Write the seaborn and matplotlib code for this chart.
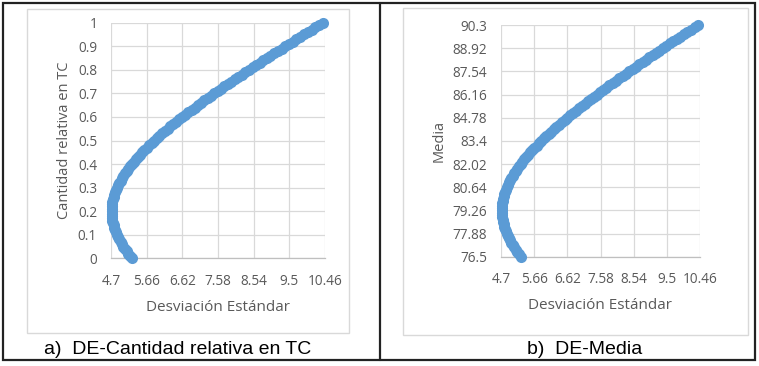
import matplotlib
matplotlib.use('Agg')
import matplotlib.pyplot as plt
import seaborn as sns
from matplotlib.patches import Rectangle

# valores (frontera: DE vs cantidad relativa en TC / media)
cantidad_tc = [0.00, 0.01, 0.02, 0.03, 0.04, 0.05, 0.06, 0.07, 0.08, 0.09,
               0.10, 0.11, 0.12, 0.13, 0.14, 0.15, 0.16, 0.17, 0.18, 0.19,
               0.20, 0.21, 0.22, 0.23, 0.24, 0.25, 0.26, 0.27, 0.28, 0.29,
               0.30, 0.31, 0.32, 0.33, 0.34, 0.35, 0.36, 0.37, 0.38, 0.39,
               0.40, 0.41, 0.42, 0.43, 0.44, 0.45, 0.46, 0.47, 0.48, 0.49,
               0.50, 0.51, 0.52, 0.53, 0.54, 0.55, 0.56, 0.57, 0.58, 0.59,
               0.60, 0.61, 0.62, 0.63, 0.64, 0.65, 0.66, 0.67, 0.68, 0.69,
               0.70, 0.71, 0.72, 0.73, 0.74, 0.75, 0.76, 0.77, 0.78, 0.79,
               0.80, 0.81, 0.82, 0.83, 0.84, 0.85, 0.86, 0.87, 0.88, 0.89,
               0.90, 0.91, 0.92, 0.93, 0.94, 0.95, 0.96, 0.97, 0.98, 0.99,
               1.00]
desviacion = [5.26, 5.21, 5.16, 5.12, 5.07, 5.03, 4.99, 4.96, 4.92, 4.89,
              4.86, 4.83, 4.81, 4.79, 4.77, 4.76, 4.74, 4.73, 4.73, 4.72,
              4.72, 4.72, 4.73, 4.73, 4.74, 4.76, 4.77, 4.79, 4.81, 4.83,
              4.86, 4.89, 4.92, 4.96, 4.99, 5.03, 5.07, 5.12, 5.16, 5.21,
              5.26, 5.31, 5.37, 5.42, 5.48, 5.54, 5.60, 5.66, 5.73, 5.80,
              5.86, 5.93, 6.00, 6.08, 6.15, 6.23, 6.30, 6.38, 6.46, 6.54,
              6.62, 6.70, 6.78, 6.87, 6.95, 7.04, 7.12, 7.21, 7.30, 7.39,
              7.48, 7.57, 7.66, 7.75, 7.84, 7.94, 8.03, 8.12, 8.22, 8.31,
              8.41, 8.51, 8.60, 8.70, 8.80, 8.89, 8.99, 9.09, 9.19, 9.29,
              9.39, 9.49, 9.59, 9.69, 9.79, 9.90, 10.00, 10.10, 10.20, 10.31,
              10.40]
media = [76.50, 76.64, 76.78, 76.91, 77.05, 77.19, 77.33, 77.47, 77.60, 77.74,
         77.88, 78.02, 78.16, 78.29, 78.43, 78.57, 78.71, 78.85, 78.98, 79.12,
         79.26, 79.40, 79.54, 79.67, 79.81, 79.95, 80.09, 80.23, 80.36, 80.50,
         80.64, 80.78, 80.92, 81.05, 81.19, 81.33, 81.47, 81.61, 81.74, 81.88,
         82.02, 82.16, 82.30, 82.43, 82.57, 82.71, 82.85, 82.99, 83.12, 83.26,
         83.40, 83.54, 83.68, 83.81, 83.95, 84.09, 84.23, 84.37, 84.50, 84.64,
         84.78, 84.92, 85.06, 85.19, 85.33, 85.47, 85.61, 85.75, 85.88, 86.02,
         86.16, 86.30, 86.44, 86.57, 86.71, 86.85, 86.99, 87.13, 87.26, 87.40,
         87.54, 87.68, 87.82, 87.95, 88.09, 88.23, 88.37, 88.51, 88.64, 88.78,
         88.92, 89.06, 89.20, 89.33, 89.47, 89.61, 89.75, 89.89, 90.02, 90.16,
         90.30]

x_ticks = [4.7, 5.66, 6.62, 7.58, 8.54, 9.5, 10.46]
x_labels = ['4.7', '5.66', '6.62', '7.58', '8.54', '9.5', '10.46']
tc_ticks = [0, 0.1, 0.2, 0.3, 0.4, 0.5, 0.6, 0.7, 0.8, 0.9, 1]
tc_labels = ['0', '0.1', '0.2', '0.3', '0.4', '0.5', '0.6', '0.7', '0.8', '0.9', '1']
media_ticks = [76.5, 77.88, 79.26, 80.64, 82.02, 83.4, 84.78, 86.16, 87.54, 88.92, 90.3]
media_labels = ['76.5', '77.88', '79.26', '80.64', '82.02', '83.4', '84.78',
                '86.16', '87.54', '88.92', '90.3']

BLUE = '#5B9BD5'
GREY_TXT = '#595959'
GRID = '#d9d9d9'

sns.set_style('white')
plt.rcParams['font.family'] = ['Open Sans', 'DejaVu Sans']

W, H = 759, 366
fig = plt.figure(figsize=(W / 100, H / 100), dpi=100)


def px_axes(x0, y0, x1, y1):
    return fig.add_axes([x0 / W, 1 - y1 / H, (x1 - x0) / W, (y1 - y0) / H])


def px_rect(x0, y0, x1, y1, color, lw):
    r = Rectangle((x0 / W, 1 - y1 / H), (x1 - x0) / W, (y1 - y0) / H,
                  transform=fig.transFigure, fill=False, edgecolor=color, linewidth=lw)
    fig.add_artist(r)


def style_axes(ax, yticks, ylabels, ylim, ylabel):
    ax.set_xlim(4.7, 10.46)
    ax.set_ylim(*ylim)
    ax.set_xticks(x_ticks)
    ax.set_xticklabels(x_labels)
    ax.set_yticks(yticks)
    ax.set_yticklabels(ylabels)
    ax.grid(True, color=GRID, linewidth=0.9)
    ax.set_axisbelow(True)
    for s in ['top', 'right', 'left']:
        ax.spines[s].set_visible(False)
    ax.spines['bottom'].set_color('#bfbfbf')
    ax.spines['bottom'].set_linewidth(0.9)
    ax.tick_params(axis='x', length=4, color='#bfbfbf', pad=7, labelsize=9.8, labelcolor=GREY_TXT)
    ax.tick_params(axis='y', length=0, pad=10, labelsize=9.8, labelcolor=GREY_TXT)
    ax.set_xlabel('Desviación Estándar', fontsize=11, color=GREY_TXT, labelpad=8)
    ax.set_ylabel(ylabel, fontsize=10.5, color=GREY_TXT, labelpad=4)
    ax.set_facecolor('none')


ax1 = px_axes(111, 22.7, 325, 258.3)
sns.scatterplot(x=desviacion, y=cantidad_tc, ax=ax1, color=BLUE, s=64,
                linewidth=0, clip_on=False, zorder=3)
style_axes(ax1, tc_ticks, tc_labels, (0, 1), 'Cantidad relativa en TC')

ax2 = px_axes(501.3, 25, 699.7, 256.7)
sns.scatterplot(x=desviacion, y=media, ax=ax2, color=BLUE, s=64,
                linewidth=0, clip_on=False, zorder=3)
style_axes(ax2, media_ticks, media_labels, (76.5, 90.3), 'Media')

# marcos
px_rect(27, 9, 349, 333, GRID, 1.0)
px_rect(403, 8, 748, 335, GRID, 1.0)
px_rect(3, 3, 755, 360, '#222222', 1.6)
fig.add_artist(plt.Line2D([380 / W, 380 / W], [1 - 3 / H, 1 - 360 / H],
                          transform=fig.transFigure, color='#222222', linewidth=1.6))

fig.text(178 / W, 1 - 349 / H, 'a)  DE-Cantidad relativa en TC', ha='center', va='center',
         fontsize=14, family=['Liberation Sans'], color='black')
fig.text(585 / W, 1 - 349 / H, 'b)  DE-Media', ha='center', va='center',
         fontsize=14, family=['Liberation Sans'], color='black')

fig.savefig('out.png', dpi=100)
